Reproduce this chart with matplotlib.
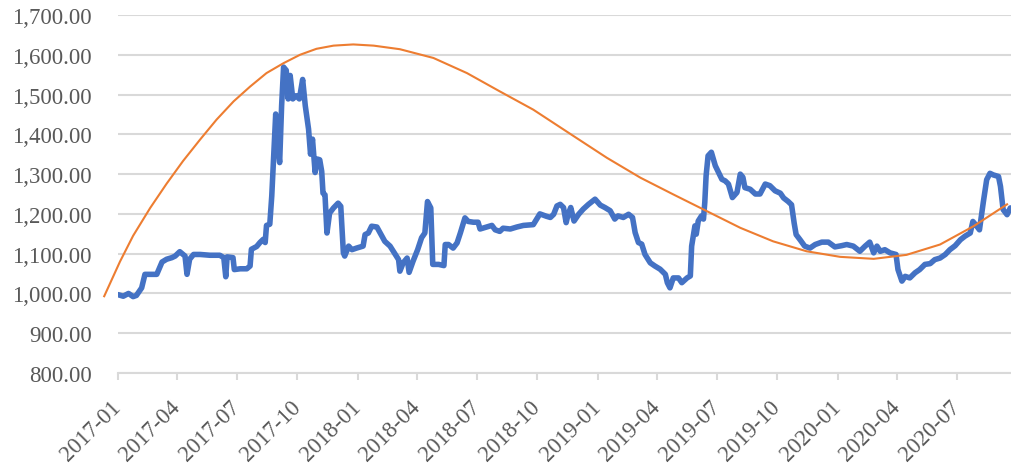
import numpy as np
import pandas as pd
import matplotlib
matplotlib.use("Agg")
from matplotlib import pyplot as plt
import matplotlib.dates as mdates
from matplotlib.ticker import FuncFormatter

## 起始日期 + 天数
start = pd.Timestamp("2017-01-01")

## 价格序列（蓝线）天数 / 数值
price_days = [0, 8, 16, 23, 28, 36, 41, 49, 59, 67, 74, 82, 87, 94, 102, 105, 109, 115, 125, 140,
              155, 161, 164, 166, 175, 177, 186, 196, 201, 203, 211, 216, 221, 224, 226, 231, 234, 237, 240, 242,
              246, 249, 252, 256, 259, 262, 266, 271, 276, 281, 285, 290, 293, 296, 300, 303,
              307, 310, 312, 315, 318, 322, 328, 335, 339, 343, 345, 351, 356, 363, 373, 376, 381, 386, 394, 399,
              406, 414, 422, 427, 429, 434, 440, 443, 449, 456, 462, 467, 471, 476, 479, 488, 496, 498, 503, 510,
              516, 521, 528, 533, 541, 548, 551, 561, 569, 574, 581, 586, 597, 607, 617, 632, 642, 652,
              658, 663, 668, 673, 678, 682, 685, 689, 694, 701, 708, 716, 726, 734, 741, 749, 756, 761, 769, 777,
              783, 787, 792, 797, 802, 810, 817, 825, 833, 836, 840, 845, 853, 858, 866, 871, 873, 878, 880, 883,
              888, 891, 893, 895, 898, 903, 909, 914, 919, 924, 929, 935, 942, 947, 951, 954, 962, 970, 977, 985,
              992, 1000,
              1008, 1013, 1020, 1025, 1029, 1032, 1038, 1045, 1053, 1061, 1071, 1081, 1091, 1101, 1109, 1119, 1129,
              1137, 1144, 1150, 1155, 1160, 1167, 1175, 1184, 1187, 1193, 1198, 1205, 1213, 1220, 1228, 1236, 1243,
              1251, 1259, 1266, 1274, 1282, 1289, 1297, 1301, 1307, 1311, 1317, 1322, 1327, 1332, 1340, 1343, 1347,
              1353, 1358]
price_vals = [997, 993, 1000, 992, 995, 1014, 1048, 1048, 1048, 1079, 1086, 1090, 1094, 1105, 1094, 1048, 1086, 1098, 1098, 1096,
              1096, 1090, 1042, 1092, 1090, 1060, 1062, 1062, 1069, 1111, 1118, 1128, 1136, 1128, 1171, 1174, 1245, 1346, 1451, 1388,
              1329, 1472, 1569, 1561, 1489, 1548, 1489, 1497, 1489, 1538, 1472, 1413, 1350, 1388, 1304, 1338,
              1336, 1307, 1252, 1248, 1152, 1202, 1215, 1227, 1219, 1102, 1094, 1119, 1110, 1114, 1119, 1148, 1152, 1169, 1167, 1152,
              1131, 1119, 1098, 1085, 1056, 1077, 1089, 1053, 1081, 1110, 1140, 1152, 1231, 1215, 1073, 1073, 1070, 1123, 1123, 1114,
              1127, 1152, 1190, 1181, 1179, 1179, 1162, 1167, 1171, 1160, 1156, 1164, 1162, 1167, 1171, 1173, 1200, 1194,
              1191, 1199, 1220, 1224, 1216, 1178, 1199, 1216, 1182, 1199, 1212, 1224, 1237, 1222, 1216, 1208, 1187, 1195, 1191, 1199,
              1191, 1153, 1128, 1124, 1098, 1077, 1069, 1061, 1048, 1027, 1014, 1039, 1039, 1027, 1039, 1044, 1119, 1170, 1149, 1182,
              1195, 1187, 1229, 1296, 1346, 1355, 1321, 1304, 1287, 1283, 1275, 1241, 1254, 1300, 1292, 1266, 1262, 1250, 1250, 1275,
              1271, 1258,
              1252, 1240, 1231, 1223, 1177, 1148, 1135, 1119, 1114, 1123, 1129, 1129, 1117, 1120, 1123, 1119, 1106,
              1119, 1129, 1102, 1119, 1106, 1110, 1102, 1098, 1060, 1031, 1043, 1039, 1052, 1060, 1073, 1075, 1085,
              1089, 1098, 1110, 1120, 1135, 1144, 1152, 1181, 1169, 1160, 1231, 1286, 1302, 1298, 1294, 1269, 1211,
              1198, 1215]

## 趋势线（橙线）读数
trend_days = [-21, 3, 23, 49, 74, 99, 125, 150, 176, 201, 226, 252, 277, 302, 328, 358, 389, 429, 480, 531,
              581, 632, 693, 744, 795, 845, 896, 947, 997, 1048, 1099, 1150, 1200, 1251, 1302, 1353]
trend_vals = [993, 1080, 1145, 1215, 1276, 1333, 1387, 1437, 1483, 1520, 1554, 1579, 1600, 1615, 1623, 1626, 1623, 1614, 1592, 1554,
              1508, 1462, 1396, 1341, 1291, 1249, 1207, 1165, 1131, 1106, 1092, 1087, 1097, 1123, 1169, 1224]

price_dates = start + pd.to_timedelta(price_days, unit="D")
trend_dates = start + pd.to_timedelta(trend_days, unit="D")

plt.rcParams['font.family'] = ['Liberation Serif', 'DejaVu Serif']
txt_color = '#595959'
grid_color = '#d9d9d9'

fig = plt.figure(figsize=(10.11, 4.64), dpi=100)
ax = fig.add_axes([118/1011, 90/464, 1 - 118/1011, (374-16)/464])

ax.plot(price_dates, price_vals, color='#4472C4', linewidth=4.0, solid_joinstyle='round', solid_capstyle='round', zorder=3)
ax.plot(trend_dates, trend_vals, color='#ED7D31', linewidth=1.5, clip_on=False, zorder=4)

ax.set_ylim(800, 1700)
ax.set_yticks(np.arange(800, 1701, 100))
ax.yaxis.set_major_formatter(FuncFormatter(lambda v, p: f"{v:,.2f}"))
ax.set_xlim(start, start + pd.Timedelta(days=1359))
ax.xaxis.set_major_locator(mdates.MonthLocator(bymonth=[1, 4, 7, 10]))
ax.xaxis.set_major_formatter(mdates.DateFormatter('%Y-%m'))

ax.grid(axis='y', color=grid_color, linewidth=1.5)
ax.set_axisbelow(True)
for s in ['top', 'right', 'left']:
    ax.spines[s].set_visible(False)
ax.spines['bottom'].set_color(grid_color)
ax.spines['bottom'].set_linewidth(1.5)

ax.tick_params(axis='y', length=0, pad=19, labelsize=16.5, labelcolor=txt_color)
ax.tick_params(axis='x', length=5, width=1.5, color=grid_color, pad=17, labelsize=16.5, labelcolor=txt_color)
for lab in ax.get_xticklabels():
    lab.set_rotation(45)
    lab.set_ha('right')
    lab.set_va('center')
    lab.set_rotation_mode('anchor')

fig.savefig('out.png', dpi=100)
